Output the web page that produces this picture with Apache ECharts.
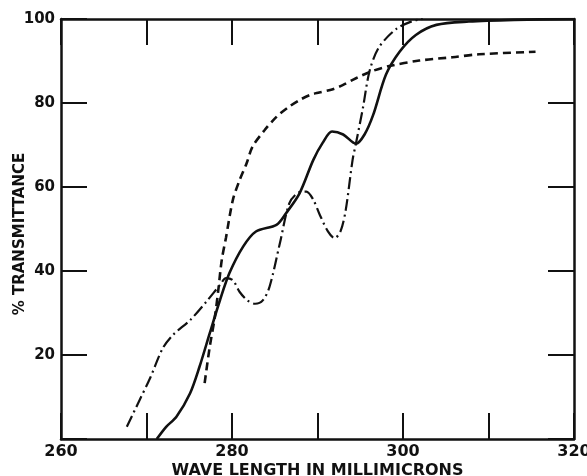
<!DOCTYPE html>
<html>
<head>
<meta charset="utf-8">
<script src="https://cdn.jsdelivr.net/npm/echarts@6/dist/echarts.min.js"></script>
<style>
  html, body { margin: 0; padding: 0; background: #fff; }
  #chart { width: 587px; height: 476px; }
</style>
</head>
<body>
<div id="chart"></div>
<script>
// Wave length (millimicrons) and % transmittance for the three curves
const solidX = [271.2, 272.3, 273.5, 275.1, 276.2, 277.4, 278.6, 279.7, 281.3, 282.8, 285.2, 286.3, 287.9, 289.5, 290.6, 291.7, 293.0, 294.5, 295.5, 296.5, 298.0, 299.6, 301.5, 303.9, 307.7, 313.0, 320.0];
const solidY = [0, 2.9, 5.3, 10.9, 17.2, 25.2, 33.1, 39.5, 45.8, 49.4, 51.0, 53.7, 58.5, 66.4, 70.5, 73.2, 72.5, 70.3, 72.5, 77.1, 86.7, 92.2, 96.2, 98.6, 99.4, 99.8, 100];

const dashedX = [276.8, 277.4, 278.0, 278.4, 278.8, 279.3, 280.1, 280.9, 281.7, 282.4, 283.8, 285.2, 286.6, 287.9, 289.1, 290.2, 291.8, 293.0, 294.5, 296.4, 298.4, 301.9, 305.8, 308.9, 315.5];
const dashedY = [13.3, 22.0, 29.1, 35.5, 42.6, 48.0, 56.9, 61.7, 65.6, 69.6, 73.5, 76.7, 79.0, 80.7, 81.9, 82.5, 83.3, 84.3, 85.9, 87.6, 88.8, 90.1, 90.9, 91.6, 92.2];

const dashDotX = [267.7, 269.2, 270.4, 271.9, 273.1, 275.1, 277.0, 278.6, 279.3, 280.1, 280.9, 281.8, 282.7, 283.6, 284.4, 285.6, 286.7, 287.7, 288.7, 289.5, 290.2, 291.2, 292.0, 292.7, 293.3, 294.1, 294.5, 295.3, 296.1, 297.2, 299.2, 301.1, 302.3];
const dashDotY = [2.9, 9.3, 14.4, 21.6, 24.8, 28.3, 32.7, 36.7, 38.3, 37.8, 35.0, 33.0, 32.2, 33.0, 36.3, 46.6, 56.1, 58.6, 58.9, 57.0, 53.7, 49.5, 47.8, 49.5, 54.5, 66.4, 70.4, 78.7, 87.7, 93.3, 97.6, 99.5, 100];

const xLabels = [260, 280, 300, 320];
const yLabels = [20, 40, 60, 80, 100];

const pairs = (xs, ys) => xs.map((x, i) => [x, ys[i]]);

const FONT = 'DejaVu Sans';
const INK = '#111';

const chart = echarts.init(document.getElementById('chart'));

const xBase = {
  type: 'value', min: 260, max: 320, interval: 10,
  axisLine: { show: true, onZero: false, lineStyle: { color: INK, width: 2.5 } },
  axisTick: { show: true, inside: true, length: 26, lineStyle: { color: INK, width: 2 } },
  splitLine: { show: false }
};
const yBase = {
  type: 'value', min: 0, max: 100, interval: 20,
  axisLine: { show: true, onZero: false, lineStyle: { color: INK, width: 2.5 } },
  axisTick: { show: true, inside: true, length: 26, lineStyle: { color: INK, width: 2 } },
  splitLine: { show: false }
};

chart.setOption({
  backgroundColor: '#fff',
  animation: false,
  grid: { left: 61, right: 13, top: 19, bottom: 37, containLabel: false, outerBoundsMode: 'none' },
  xAxis: [
    Object.assign({}, xBase, {
      position: 'bottom',
      name: 'WAVE LENGTH IN MILLIMICRONS',
      nameLocation: 'middle',
      nameGap: 24,
      nameMoveOverlap: false,
      nameTextStyle: { fontFamily: FONT, fontWeight: 'bold', fontSize: 16, color: INK },
      axisLabel: {
        margin: 5, fontFamily: FONT, fontWeight: 'bold', fontSize: 16, color: INK,
        formatter: v => xLabels.includes(v) ? String(v) : ''
      }
    }),
    Object.assign({}, xBase, { position: 'top', axisLabel: { show: false } })
  ],
  yAxis: [
    Object.assign({}, yBase, {
      position: 'left',
      name: '% TRANSMITTANCE',
      nameLocation: 'middle',
      nameGap: 33,
      nameMoveOverlap: false,
      nameTextStyle: { fontFamily: FONT, fontWeight: 'bold', fontSize: 15, color: INK, padding: [0, 10, 0, 0] },
      axisLabel: {
        margin: 6, fontFamily: FONT, fontWeight: 'bold', fontSize: 15, color: INK,
        formatter: v => yLabels.includes(v) ? String(v) : ''
      }
    }),
    Object.assign({}, yBase, { position: 'right', axisLabel: { show: false } })
  ],
  series: [
    {
      type: 'line', data: pairs(solidX, solidY), smooth: 0.3, showSymbol: false,
      lineStyle: { color: INK, width: 2.6, type: 'solid' }
    },
    {
      type: 'line', data: pairs(dashedX, dashedY), smooth: 0.3, showSymbol: false,
      lineStyle: { color: INK, width: 2.6, type: [8, 5] }
    },
    {
      type: 'line', data: pairs(dashDotX, dashDotY), smooth: 0.3, showSymbol: false,
      lineStyle: { color: INK, width: 2.2, type: [12, 4, 2, 4] }
    }
  ]
});
</script>
</body>
</html>
